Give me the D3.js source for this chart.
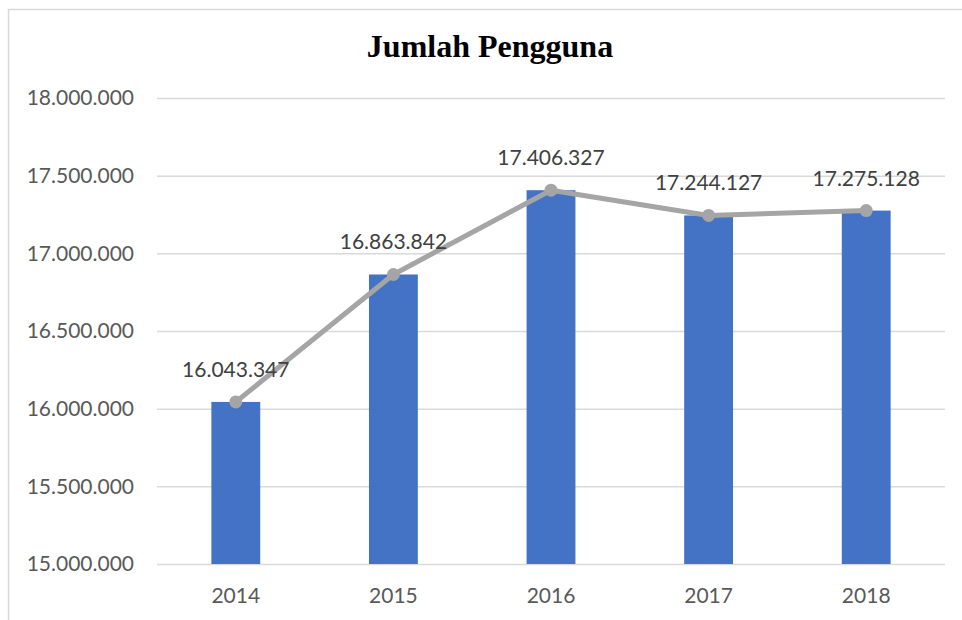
<!DOCTYPE html>
<html>
<head>
<meta charset="utf-8">
<script src="https://cdn.jsdelivr.net/npm/d3@7"></script>
<style>
  html, body { margin: 0; padding: 0; background: #fff; }
  svg { display: block; }
</style>
</head>
<body>
<div id="chart"></div>
<script>
const years = ['2014', '2015', '2016', '2017', '2018']
const users = [16043347, 16863842, 17406327, 17244127, 17275128]
const yTicks = [15000000, 15500000, 16000000, 16500000, 17000000, 17500000, 18000000]

const width = 962
const height = 620
const margin = { top: 98, right: 17, bottom: 56, left: 157 }
const labelFont = 'Lato, "Open Sans", sans-serif'

const svg = d3.select('#chart')
  .append('svg')
  .attr('width', width)
  .attr('height', height)

// chart frame, runs off the right and bottom of the picture
svg.append('rect')
  .attr('x', 8.5)
  .attr('y', 9.5)
  .attr('width', 1000)
  .attr('height', 700)
  .attr('fill', 'none')
  .attr('stroke', '#d9d9d9')
  .attr('stroke-width', 1.5)

const fmt = d3.formatLocale({ decimal: ',', thousands: '.', grouping: [3], currency: ['', ''] }).format(',d')

const x = d3.scaleBand()
  .domain(years)
  .range([margin.left, width - margin.right])
  .padding(0)

const y = d3.scaleLinear()
  .domain([15000000, 18000000])
  .range([height - margin.bottom, margin.top])

const barW = x.bandwidth() * 0.31
const cx = d => x(d) + x.bandwidth() / 2

// gridlines + y labels
const yAxis = d3.axisLeft(y)
  .tickValues(yTicks)
  .tickFormat(fmt)
  .tickSize(-(width - margin.left - margin.right))
  .tickPadding(23)

svg.append('g')
  .attr('transform', `translate(${margin.left},0)`)
  .call(yAxis)
  .call(g => g.select('.domain').remove())
  .call(g => g.selectAll('.tick line').attr('stroke', '#d9d9d9').attr('stroke-width', 1.5))
  .call(g => g.selectAll('.tick text')
    .attr('fill', '#595959')
    .style('font-family', labelFont)
    .style('font-size', '21px'))

// x labels
const xAxis = d3.axisBottom(x).tickSize(0).tickPadding(24)

svg.append('g')
  .attr('transform', `translate(0,${height - margin.bottom})`)
  .call(xAxis)
  .call(g => g.select('.domain').remove())
  .call(g => g.selectAll('.tick text')
    .attr('fill', '#595959')
    .style('font-family', labelFont)
    .style('font-size', '21px'))

// bars
svg.selectAll('rect.bar')
  .data(years)
  .enter().append('rect')
  .attr('class', 'bar')
  .attr('x', (d, i) => cx(d) - barW / 2)
  .attr('y', (d, i) => y(users[i]))
  .attr('width', barW)
  .attr('height', (d, i) => y(15000000) - y(users[i]))
  .attr('fill', '#4472c4')

// line
const line = d3.line()
  .x(d => cx(d))
  .y((d, i) => y(users[i]))

svg.append('path')
  .datum(years)
  .attr('d', line)
  .attr('fill', 'none')
  .attr('stroke', '#a5a5a5')
  .attr('stroke-width', 5)
  .attr('stroke-linejoin', 'round')

svg.selectAll('circle')
  .data(years)
  .enter().append('circle')
  .attr('cx', d => cx(d))
  .attr('cy', (d, i) => y(users[i]))
  .attr('r', 6.5)
  .attr('fill', '#a5a5a5')

// value labels
svg.selectAll('text.val')
  .data(years)
  .enter().append('text')
  .attr('class', 'val')
  .attr('x', d => cx(d))
  .attr('y', (d, i) => y(users[i]) - 25)
  .attr('text-anchor', 'middle')
  .attr('fill', '#404040')
  .style('font-family', labelFont)
  .style('font-size', '21px')
  .text((d, i) => fmt(users[i]))

// title
svg.append('text')
  .attr('x', 490)
  .attr('y', 57)
  .attr('text-anchor', 'middle')
  .style('font-family', '"Liberation Serif", "Times New Roman", serif')
  .style('font-weight', 'bold')
  .style('font-size', '32px')
  .attr('fill', '#000')
  .text('Jumlah Pengguna')
</script>
</body>
</html>
